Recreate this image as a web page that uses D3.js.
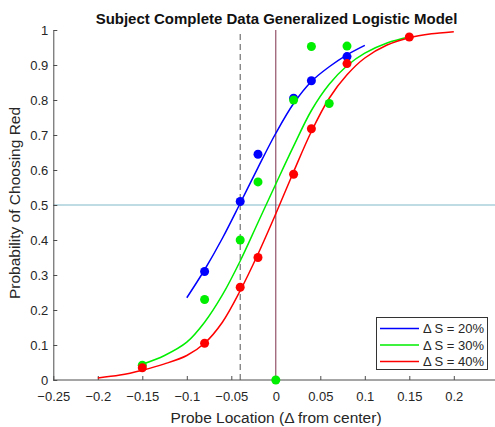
<!DOCTYPE html>
<html>
<head>
<meta charset="utf-8">
<script src="https://cdn.jsdelivr.net/npm/d3@7"></script>
<style>
  html, body { margin: 0; padding: 0; background: #fff; }
  svg { display: block; font-family: "Liberation Sans", Arial, sans-serif; }
</style>
</head>
<body>
<svg id="chart" width="495" height="427"></svg>
<script>
// ---- data ----
const xTicks = [-0.25, -0.2, -0.15, -0.1, -0.05, 0, 0.05, 0.1, 0.15, 0.2];
const yTicks = [0, 0.1, 0.2, 0.3, 0.4, 0.5, 0.6, 0.7, 0.8, 0.9, 1];
const seriesNames = ["\u0394 S = 20%", "\u0394 S = 30%", "\u0394 S = 40%"];

const blueX = [-0.08, -0.04, -0.02, 0.02, 0.04, 0.08];
const blueY = [0.31, 0.51, 0.645, 0.805, 0.855, 0.924];
const greenX = [-0.15, -0.08, -0.04, -0.02, 0, 0.02, 0.04, 0.06, 0.08];
const greenY = [0.042, 0.23, 0.40, 0.566, 0, 0.80, 0.953, 0.79, 0.954];
const redX = [-0.15, -0.08, -0.04, -0.02, 0.02, 0.04, 0.08, 0.15];
const redY = [0.035, 0.105, 0.265, 0.35, 0.588, 0.718, 0.904, 0.98];

const blueCurveX = [-0.1, -0.08, -0.06, -0.04, -0.02, 0, 0.02, 0.04, 0.06, 0.08, 0.1];
const blueCurveY = [0.235, 0.315, 0.405, 0.505, 0.607, 0.705, 0.79, 0.853, 0.895, 0.929, 0.956];
const greenCurveX = [-0.15, -0.125, -0.1, -0.08, -0.06, -0.04, -0.02, 0, 0.02, 0.04, 0.06, 0.08, 0.1, 0.125, 0.15];
const greenCurveY = [0.045, 0.07, 0.108, 0.165, 0.243, 0.34, 0.45, 0.56, 0.668, 0.77, 0.845, 0.898, 0.934, 0.963, 0.98];
const redCurveX = [-0.2, -0.175, -0.15, -0.125, -0.1, -0.08, -0.06, -0.04, -0.02, 0, 0.02, 0.04, 0.06, 0.08, 0.1, 0.125, 0.15, 0.175, 0.2];
const redCurveY = [0.006, 0.014, 0.028, 0.046, 0.07, 0.105, 0.165, 0.255, 0.36, 0.475, 0.595, 0.71, 0.805, 0.872, 0.92, 0.957, 0.978, 0.989, 0.995];

const refX = 0;        // vertical reference line
const dashX = -0.04;   // dashed vertical line
const refY = 0.5;      // horizontal reference line

// ---- layout ----
const svg = d3.select("#chart");
const plotLeft = 53.3, plotRight = 498.3, plotTop = 30, plotBottom = 380;
const x = d3.scaleLinear().domain([-0.25, 0.25]).range([plotLeft, plotRight]);
const y = d3.scaleLinear().domain([0, 1]).range([plotBottom, plotTop]);

const colors = ["#0000ff", "#00ee00", "#ff0000"];
const axisColor = "#4d4d4d";
const textColor = "#262626";

// reference lines
svg.append("line")
  .attr("x1", x(-0.25)).attr("x2", 495)
  .attr("y1", y(refY)).attr("y2", y(refY))
  .attr("stroke", "#80b9cc").attr("stroke-width", 1.2);
svg.append("line")
  .attr("x1", x(dashX)).attr("x2", x(dashX))
  .attr("y1", y(0)).attr("y2", y(1))
  .attr("stroke", "#555").attr("stroke-width", 1).attr("stroke-dasharray", "6,4");
svg.append("line")
  .attr("x1", x(refX)).attr("x2", x(refX))
  .attr("y1", y(0)).attr("y2", y(1))
  .attr("stroke", "#7e2f4a").attr("stroke-width", 1);

// axes
const xAxis = d3.axisBottom(x).tickValues(xTicks).tickSizeInner(-4).tickSizeOuter(0)
  .tickPadding(12).tickFormat(d => d3.format("")(+d.toFixed(2)));
const gx = svg.append("g").attr("transform", `translate(0,${plotBottom})`).call(xAxis);
gx.select(".domain").attr("stroke", axisColor).attr("d", `M${plotLeft},0H495`);
gx.selectAll(".tick line").attr("stroke", axisColor);
gx.selectAll(".tick text").attr("fill", textColor).attr("font-size", 13)
  .attr("font-family", "Liberation Sans, Arial, sans-serif");

const yAxis = d3.axisLeft(y).tickValues(yTicks).tickSizeInner(-4).tickSizeOuter(0)
  .tickPadding(5).tickFormat(d => d3.format("")(+d.toFixed(1)));
const gy = svg.append("g").attr("transform", `translate(${plotLeft},0)`).call(yAxis);
gy.select(".domain").attr("stroke", axisColor);
gy.selectAll(".tick line").attr("stroke", axisColor);
gy.selectAll(".tick text").attr("fill", textColor).attr("font-size", 13)
  .attr("font-family", "Liberation Sans, Arial, sans-serif");

// curves and points
const line = d3.line().x(d => x(d[0])).y(d => y(d[1])).curve(d3.curveCatmullRom.alpha(0.5));
const curves = [
  d3.zip(blueCurveX, blueCurveY),
  d3.zip(greenCurveX, greenCurveY),
  d3.zip(redCurveX, redCurveY)
];
const points = [
  d3.zip(blueX, blueY),
  d3.zip(greenX, greenY),
  d3.zip(redX, redY)
];
curves.forEach((c, i) => {
  svg.append("path").datum(c).attr("d", line)
    .attr("fill", "none").attr("stroke", colors[i]).attr("stroke-width", 1.5);
});
points.forEach((p, i) => {
  svg.append("g").selectAll("circle").data(p).join("circle")
    .attr("cx", d => x(d[0])).attr("cy", d => y(d[1])).attr("r", 4.5)
    .attr("fill", colors[i]);
});

// title
svg.append("text").attr("x", 276.5).attr("y", 23.5).attr("text-anchor", "middle")
  .attr("font-size", 15).attr("font-weight", "bold").attr("fill", "#111")
  .text("Subject Complete Data Generalized Logistic Model");

// axis labels
svg.append("text").attr("x", 276).attr("y", 422.5).attr("text-anchor", "middle")
  .attr("font-size", 15.5).attr("fill", textColor)
  .text("Probe Location (\u0394 from center)");
svg.append("text").attr("transform", `translate(20,203) rotate(-90)`)
  .attr("text-anchor", "middle").attr("font-size", 15.5).attr("fill", textColor)
  .text("Probability of Choosing Red");

// legend
const lg = svg.append("g");
lg.append("rect").attr("x", 376.5).attr("y", 317.5).attr("width", 111).attr("height", 52)
  .attr("fill", "#fff").attr("stroke", "#333").attr("stroke-width", 1);
seriesNames.forEach((name, i) => {
  const cy = 328.5 + i * 16.5;
  lg.append("line").attr("x1", 380).attr("x2", 419).attr("y1", cy).attr("y2", cy)
    .attr("stroke", colors[i]).attr("stroke-width", 1.5);
  lg.append("text").attr("x", 423).attr("y", cy + 4.5).attr("font-size", 13)
    .attr("fill", textColor).text(name);
});
</script>
</body>
</html>
